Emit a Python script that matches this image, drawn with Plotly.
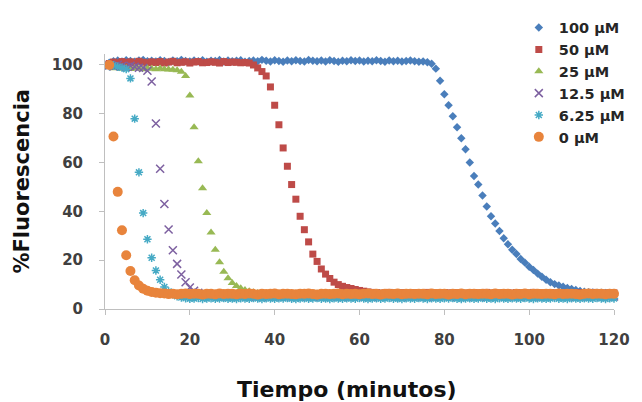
import plotly.graph_objects as go

# Tiempo de lectura (minutos)
minutos = list(range(1, 121))

# %Fluorescencia por concentración
f_100 = [
    100.9, 101.5, 101.8, 101.4, 101.9, 101.6, 101.3, 101.8, 102.0, 101.5,
    101.7, 101.4, 101.9, 101.6, 101.2, 101.8, 101.5, 102.1, 101.6, 101.4,
    101.8, 101.5, 101.9, 101.3, 101.7, 101.6, 102.0, 101.4, 101.8, 101.5,
    101.7, 101.9, 101.3, 101.6, 101.8, 101.5, 102.1, 101.7, 101.4, 101.9,
    101.6, 101.3, 101.8, 101.5, 101.9, 101.6, 101.4, 102.0, 101.7, 101.5,
    101.8, 101.4, 101.9, 101.6, 101.3, 101.7, 101.5, 101.9, 101.6, 101.8,
    101.4, 101.7, 101.5, 101.9, 101.6, 101.3, 101.8, 101.5, 101.7, 101.4,
    101.6, 101.8, 101.5, 101.3, 101.4,
    101.1, 100.5, 98.5, 93.5, 88.0, 83.5, 79.0, 74.5, 70.0, 65.5,
    60.0, 54.5, 51.0, 46.5, 42.0, 38.0, 35.0, 32.0, 29.0, 26.5,
    24.3, 22.5, 20.5, 19.0, 17.3, 16.0, 14.5, 13.2, 12.0, 11.0,
    10.2, 9.6, 9.1, 8.6, 8.2, 7.8, 7.4, 7.1, 6.9, 6.8,
    6.7, 6.7, 6.6, 6.6, 6.6,
]

f_50 = [
    100.6, 101.2, 100.9, 101.4, 101.0, 101.3, 100.8, 101.5, 101.1, 100.9,
    101.3, 101.0, 101.4, 100.8, 101.2, 101.5, 100.9, 101.1, 101.3, 100.8,
    101.2, 101.4, 100.9, 101.0, 101.3, 101.1, 100.8, 101.4, 101.0, 101.2,
    101.1, 100.9, 101.0,
    100.8, 100.0, 98.8, 97.3, 95.5, 91.0, 83.5, 75.5, 66.0, 58.5,
    51.0, 45.0, 38.0, 32.5, 27.5, 22.5, 19.5, 16.4, 14.3, 12.5,
    11.0, 10.0, 9.3, 8.8, 8.4, 8.0, 7.6, 7.3, 7.0, 6.8,
    6.7, 6.5, 6.6, 6.8, 6.5, 6.6, 6.7, 6.4, 6.6, 6.7,
    6.5, 6.6, 6.8, 6.5, 6.6, 6.4, 6.7, 6.6, 6.5, 6.7,
    6.6, 6.4, 6.6, 6.7, 6.5, 6.6, 6.8, 6.5, 6.6, 6.4,
    6.7, 6.6, 6.5, 6.7, 6.6, 6.5, 6.6, 6.8, 6.5, 6.6,
    6.4, 6.7, 6.6, 6.5, 6.7, 6.6, 6.4, 6.6, 6.7, 6.5,
    6.6, 6.8, 6.5, 6.6, 6.4, 6.7, 6.6,
]

f_25 = [
    99.2, 98.7, 98.9, 98.5, 98.8, 98.4, 98.9, 98.6, 98.3, 98.7,
    98.5, 98.2, 98.6, 98.3, 98.1, 98.0,
    97.8, 97.2, 95.5, 87.5, 74.5, 60.5, 49.5, 39.3, 31.3, 24.3,
    19.2, 15.3, 12.6, 10.7, 9.4, 8.5, 7.8, 7.3, 6.9, 6.6,
    6.4, 6.2, 6.3, 6.5, 6.1, 6.3, 6.4, 6.2, 6.3, 6.5,
    6.2, 6.3, 6.1, 6.4, 6.3, 6.2, 6.5, 6.3, 6.1, 6.4,
    6.3, 6.2, 6.4, 6.3, 6.5, 6.2, 6.1, 6.3, 6.4, 6.2,
    6.3, 6.5, 6.2, 6.3, 6.1, 6.4, 6.3, 6.2, 6.4, 6.3,
    6.2, 6.5, 6.3, 6.1, 6.3, 6.4, 6.2, 6.3, 6.5, 6.2,
    6.3, 6.1, 6.4, 6.3, 6.2, 6.5, 6.3, 6.1, 6.4, 6.3,
    6.2, 6.4, 6.3, 6.5, 6.2, 6.1, 6.3, 6.4, 6.2, 6.3,
    6.5, 6.2, 6.3, 6.1, 6.4, 6.3, 6.2, 6.4, 6.3, 6.2,
    6.5, 6.3, 6.1, 6.4,
]

f_12_5 = [
    99.8, 99.4, 100.1, 99.6, 99.2, 99.7, 99.3, 98.9, 98.8, 97.6,
    93.2, 76.0, 57.5, 43.0, 32.6, 24.1, 18.5, 14.1, 11.0, 8.8,
    7.5, 6.6, 6.0, 5.6, 5.3,
    5.2, 5.0, 5.3, 5.1, 4.9, 5.2, 5.1, 5.3, 5.0, 5.2,
    5.1, 4.9, 5.2, 5.3, 5.0, 5.1, 5.2, 4.9, 5.1, 5.3,
    5.0, 5.2, 5.1, 4.9, 5.2, 5.0, 5.3, 5.1, 5.2, 5.0,
    4.9, 5.2, 5.1, 5.3, 5.0, 5.1, 5.2, 4.9, 5.1, 5.2,
    5.3, 5.0, 5.1, 5.2, 4.9, 5.1, 5.3, 5.0, 5.2, 5.1,
    4.9, 5.2, 5.0, 5.3, 5.1, 5.2, 5.0, 4.9, 5.2, 5.1,
    5.3, 5.0, 5.1, 5.2, 4.9, 5.1, 5.3, 5.0, 5.2, 5.1,
    5.0, 5.2, 4.9, 5.1, 5.3, 5.0, 5.2, 5.1, 4.9, 5.2,
    5.1, 5.3, 5.0, 5.1, 5.2, 4.9, 5.1, 5.2, 5.0, 5.3,
    5.1, 5.0, 5.2, 4.9, 5.1,
]

f_6_25 = [
    99.6, 99.9, 99.3, 98.9, 98.3,
    94.5, 78.0, 56.0, 39.3, 28.6, 21.0, 15.8, 12.0, 9.0, 7.2,
    6.0, 5.2, 4.7,
    4.4, 4.2, 4.3, 4.5, 4.1, 4.3, 4.4, 4.2, 4.3, 4.5,
    4.2, 4.3, 4.1, 4.4, 4.3, 4.2, 4.5, 4.3, 4.1, 4.4,
    4.3, 4.2, 4.4, 4.3, 4.5, 4.2, 4.1, 4.3, 4.4, 4.2,
    4.3, 4.5, 4.2, 4.3, 4.1, 4.4, 4.3, 4.2, 4.4, 4.3,
    4.2, 4.5, 4.3, 4.1, 4.3, 4.4, 4.2, 4.3, 4.5, 4.2,
    4.3, 4.1, 4.4, 4.3, 4.2, 4.5, 4.3, 4.1, 4.4, 4.3,
    4.2, 4.4, 4.3, 4.5, 4.2, 4.1, 4.3, 4.4, 4.2, 4.3,
    4.5, 4.2, 4.3, 4.1, 4.4, 4.3, 4.2, 4.4, 4.3, 4.2,
    4.5, 4.3, 4.1, 4.4, 4.3, 4.2, 4.3, 4.5, 4.2, 4.3,
    4.1, 4.4, 4.3, 4.2, 4.4, 4.3, 4.2, 4.5, 4.3, 4.1,
    4.4, 4.3,
]

f_0 = [
    100.0, 70.7, 48.0, 32.3, 22.0, 15.6, 11.8, 9.6, 8.3, 7.5,
    7.0, 6.7, 6.5,
    6.4, 6.1, 6.3, 6.0, 6.2, 6.4, 6.1, 6.3, 6.2, 5.9,
    6.3, 6.2, 6.0, 6.4, 6.1, 6.3, 6.2, 6.0, 6.3, 6.1,
    6.4, 6.2, 5.9, 6.3, 6.1, 6.2, 6.4, 6.0, 6.2, 6.3,
    6.1, 6.0, 6.3, 6.2, 6.4, 6.1, 5.9, 6.2, 6.3, 6.1,
    6.2, 6.4, 6.0, 6.3, 6.1, 6.2, 6.0, 6.3, 6.4, 6.1,
    6.2, 5.9, 6.3, 6.2, 6.1, 6.4, 6.0, 6.2, 6.3, 6.1,
    6.3, 6.2, 6.0, 6.4, 6.1, 6.2, 6.3, 5.9, 6.2, 6.1,
    6.4, 6.0, 6.3, 6.2, 6.1, 6.3, 6.2, 6.0, 6.4, 6.1,
    6.2, 6.3, 5.9, 6.2, 6.1, 6.4, 6.0, 6.3, 6.2, 6.1,
    6.3, 6.2, 6.0, 6.4, 6.1, 6.2, 6.3, 6.1, 5.9, 6.2,
    6.4, 6.1, 6.3, 6.2, 6.0, 6.3, 6.2,
]

etiquetas = ["100 µM", "50 µM", "25 µM", "12.5 µM", "6.25 µM", "0 µM"]
x_ticks = [0, 20, 40, 60, 80, 100, 120]
y_ticks = [0, 20, 40, 60, 80, 100]

series = [f_100, f_50, f_25, f_12_5, f_6_25, f_0]
colores = ["#4A7EBB", "#BE4B48", "#98B954", "#7D60A0", "#46AAC5", "#E8843C"]
simbolos = ["diamond", "square", "triangle-up", "x-thin-open", "asterisk-open", "circle"]
tamanos = [6.5, 7, 8, 8, 7, 10]

fig = go.Figure()
for vals, nombre, color, simb, tam in zip(series, etiquetas, colores, simbolos, tamanos):
    abierto = simb.endswith("-open")
    fig.add_trace(go.Scatter(
        x=minutos, y=vals, name=nombre, mode="markers",
        cliponaxis=False,
        marker=dict(
            symbol=simb, size=tam, color=color,
            line=dict(width=1.5 if abierto else 0, color=color),
        ),
    ))

fuente = "DejaVu Sans"
fig.update_layout(
    width=642, height=402,
    margin=dict(l=105, r=16, t=50, b=93),
    paper_bgcolor="white", plot_bgcolor="white",
    showlegend=True,
    legend=dict(
        x=0.813, y=1.166, xanchor="left", yanchor="top",
        bgcolor="rgba(0,0,0,0)", borderwidth=0,
        font=dict(family=fuente, size=14.5, color="#262626", weight="bold"),
        itemsizing="trace",
    ),
    xaxis=dict(
        range=[0, 120], tickvals=x_ticks, ticks="outside", ticklen=5,
        tickcolor="#BFBFBF", showline=True, linecolor="#BFBFBF", linewidth=1,
        showgrid=False, zeroline=False, ticklabelstandoff=12,
        tickfont=dict(family=fuente, size=15, color="#404040", weight="bold"),
    ),
    yaxis=dict(
        range=[0, 104.5], tickvals=y_ticks, ticks="outside", ticklen=5,
        tickcolor="#BFBFBF", showline=True, linecolor="#BFBFBF", linewidth=1,
        showgrid=False, zeroline=False, ticklabelstandoff=13,
        tickfont=dict(family=fuente, size=15, color="#404040", weight="bold"),
    ),
    annotations=[
        dict(text="Tiempo (minutos)", xref="paper", yref="paper",
             x=0.475, y=-0.317, xanchor="center", yanchor="middle",
             showarrow=False,
             font=dict(family=fuente, size=22, color="#111111", weight="bold")),
        dict(text="%Fluorescencia", xref="paper", yref="paper",
             x=-0.165, y=0.5, xanchor="center", yanchor="middle",
             textangle=-90, showarrow=False,
             font=dict(family=fuente, size=21, color="#111111", weight="bold")),
    ],
)

fig.write_html("out.html")
